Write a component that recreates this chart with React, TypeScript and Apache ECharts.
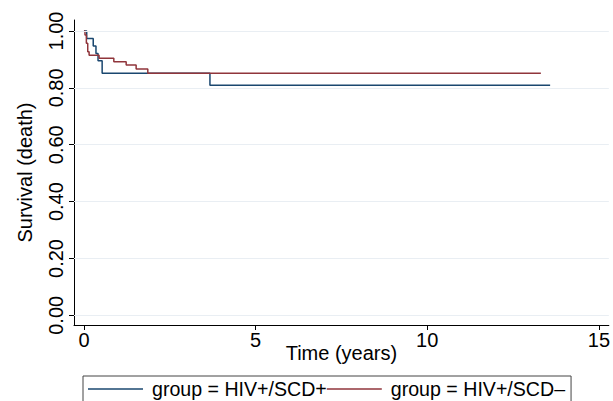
import React, { useEffect, useRef } from "react";
import * as echarts from "echarts";

const blueTimes = [0, 0.08, 0.27, 0.35, 0.41, 0.53, 3.67, 13.58];
const blueSurv = [1, 0.974, 0.947, 0.921, 0.895, 0.851, 0.809, 0.809];
const redTimes = [0, 0.03, 0.07, 0.11, 0.15, 0.44, 0.87, 1.23, 1.52, 1.86, 13.31];
const redSurv = [1, 0.986, 0.957, 0.927, 0.915, 0.904, 0.892, 0.88, 0.866, 0.851, 0.851];
const xTicks = [0, 5, 10, 15];
const yTicks = [0, 0.2, 0.4, 0.6, 0.8, 1.0];
const seriesNames = ["group = HIV+/SCD+", "group = HIV+/SCD\u2013"];

const FONT = '"Liberation Sans", Arial, Helvetica, sans-serif';
const FS = 20;

export default function App() {
  const ref = useRef<HTMLDivElement>(null);
  useEffect(() => {
    if (!ref.current) return;
    const chart = echarts.init(ref.current, null, { renderer: "svg" });
    const blueData = blueTimes.map((t, i) => [t, blueSurv[i]]);
    const redData = redTimes.map((t, i) => [t, redSurv[i]]);
    chart.setOption({
      animation: false,
      backgroundColor: "#ffffff",
      textStyle: { fontFamily: FONT },
      grid: { left: 74, top: 20, right: 0, bottom: 76, containLabel: false },
      legend: {
        left: 83,
        top: 376,
        orient: "horizontal",
        icon: "rect",
        itemWidth: 55,
        itemHeight: 1.5,
        itemGap: 0,
        padding: [3, 6, 14, 5],
        borderColor: "#444444",
        borderWidth: 1,
        data: seriesNames,
        textStyle: { fontSize: 19.6, color: "#000", fontFamily: FONT, padding: [0, 0, 0, 4] },
      },
      xAxis: {
        type: "value",
        min: -0.29,
        max: 15.29,
        name: "Time (years)",
        nameLocation: "middle",
        nameGap: 18,
        nameMoveOverlap: false,
        nameTextStyle: { fontSize: FS, color: "#000", fontFamily: FONT },
        axisLine: { show: true, onZero: false, lineStyle: { color: "#000", width: 1 } },
        axisTick: { show: true, customValues: xTicks, length: 5, lineStyle: { color: "#000" } },
        axisLabel: {
          customValues: xTicks,
          fontSize: FS,
          color: "#000",
          margin: 5,
          fontFamily: FONT,
          formatter: (v: number) => String(Math.round(v)),
        },
        splitLine: { show: false },
      },
      yAxis: {
        type: "value",
        min: -0.034,
        max: 1.0387,
        name: "Survival (death)",
        nameLocation: "middle",
        nameGap: 39,
        nameMoveOverlap: false,
        nameTextStyle: { fontSize: FS, color: "#000", fontFamily: FONT },
        axisLine: { show: true, onZero: false, lineStyle: { color: "#000", width: 1 } },
        axisTick: { show: true, customValues: yTicks, length: 5, lineStyle: { color: "#000" } },
        axisLabel: {
          customValues: yTicks,
          rotate: 90,
          fontSize: FS,
          color: "#000",
          margin: 8,
          fontFamily: FONT,
          formatter: (v: number) => v.toFixed(2),
        },
        splitLine: { show: false },
      },
      series: [
        {
          type: "line",
          name: "grid",
          data: [],
          z: 1,
          silent: true,
          markLine: {
            silent: true,
            symbol: "none",
            label: { show: false },
            lineStyle: { color: "#e9eef3", type: "solid", width: 1.2 },
            data: yTicks.map((v) => ({ yAxis: v })),
          },
        },
        {
          type: "line",
          name: seriesNames[0],
          data: blueData,
          step: "end",
          symbol: "none",
          z: 3,
          color: "#1a476f",
          lineStyle: { color: "#1a476f", width: 1.5 },
        },
        {
          type: "line",
          name: seriesNames[1],
          data: redData,
          step: "end",
          symbol: "none",
          z: 4,
          color: "#90353b",
          lineStyle: { color: "#90353b", width: 1.5 },
        },
      ],
    });
    return () => chart.dispose();
  }, []);
  return (
    <div
      ref={ref}
      style={{ position: "absolute", left: 0, top: 0, width: 613, height: 401 }}
    />
  );
}
